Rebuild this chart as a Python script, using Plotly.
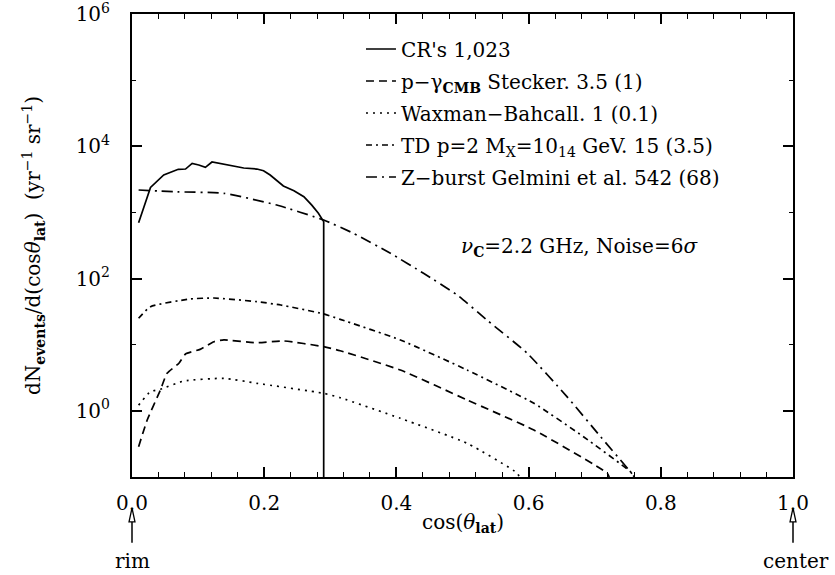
import plotly.graph_objects as go

# ---------------- data ----------------
cr_x = [0.010, 0.028, 0.048, 0.070, 0.081, 0.091, 0.101, 0.111, 0.121, 0.131, 0.149,
        0.169, 0.189, 0.199, 0.209, 0.229, 0.245, 0.260, 0.272, 0.282, 0.290, 0.290]
cr_y = [700, 2390, 3680, 4490, 4530, 5520, 5210, 4810, 5780, 5520, 5210,
        4700, 4530, 4280, 3680, 2510, 2130, 1730, 1290, 970, 725, 0.1]

stecker_x = [0.010, 0.023, 0.043, 0.053, 0.071, 0.081, 0.103, 0.124, 0.139, 0.189, 0.229,
             0.290, 0.315, 0.406, 0.507, 0.608, 0.719, 0.722]
stecker_y = [0.287, 0.726, 2.07, 3.69, 5.24, 7.23, 8.51, 11.1, 11.8, 10.7, 11.4,
             9.33, 8.11, 4.14, 1.46, 0.513, 0.114, 0.1]

wb_x = [0.010, 0.028, 0.043, 0.078, 0.139, 0.189, 0.290, 0.315, 0.406, 0.507, 0.583, 0.586]
wb_y = [1.22, 1.95, 2.12, 2.82, 3.10, 2.61, 1.84, 1.58, 0.771, 0.323, 0.114, 0.1]

td_x = [0.010, 0.028, 0.088, 0.124, 0.189, 0.225, 0.290, 0.315, 0.406, 0.507, 0.608, 0.683, 0.754, 0.760]
td_y = [25.1, 37.6, 49.1, 50.8, 44.7, 39.8, 29.2, 24.2, 11.8, 4.14, 1.30, 0.406, 0.120, 0.1]

zb_x = [0.010, 0.063, 0.139, 0.219, 0.290, 0.335, 0.391, 0.441, 0.492, 0.537, 0.598,
        0.658, 0.709, 0.754, 0.762]
zb_y = [2183, 2056, 1945, 1294, 767, 483, 241, 120, 56.4, 23.6, 7.41,
        1.64, 0.406, 0.120, 0.095]

names = ["CR's 1,023",
         "p\u2212\u03b3<sub><b>CMB</b></sub> Stecker. 3.5 (1)",
         "Waxman\u2212Bahcall. 1 (0.1)",
         "TD p=2 M<sub>X</sub>=10<sub>14</sub> GeV. 15 (3.5)",
         "Z\u2212burst Gelmini et al. 542 (68)"]

x_ticks = [0.0, 0.2, 0.4, 0.6, 0.8, 1.0]
x_ticktext = ["0.0", "0.2", "0.4", "0.6", "0.8", "1.0"]
y_ticks = [1, 1e2, 1e4, 1e6]
y_ticktext = ["10<sup>0</sup>", "10<sup>2</sup>", "10<sup>4</sup>", "10<sup>6</sup>"]
y_minor = [0.1, 10, 1e3, 1e5]

x_title = "cos(<i>\u03b8</i><sub><b>lat</b></sub>)"
y_title = ("dN<sub><b>events</b></sub>/d(cos<i>\u03b8</i><sub><b>lat</b></sub>)  "
           "(yr<sup>\u22121</sup> sr<sup>\u22121</sup>)")
note = "<i>\u03bd</i><sub><b>C</b></sub>=2.2 GHz, Noise=6<i>\u03c3</i>"

FONT = "DejaVu Serif, Liberation Serif, serif"

fig = go.Figure()
series = [
    (cr_x, cr_y, names[0], "solid", "linear"),
    (stecker_x, stecker_y, names[1], "8px,5px", "spline"),
    (wb_x, wb_y, names[2], "2px,5px", "spline"),
    (td_x, td_y, names[3], "6px,4px,2px,4px", "spline"),
    (zb_x, zb_y, names[4], "11px,5px,2px,5px", "spline"),
]
for i, (xs, ys, nm, dash, shape) in enumerate(series):
    fig.add_trace(go.Scatter(
        x=xs, y=ys, name=nm, mode="lines", legendgroup=f"g{i}",
        line=dict(color="black", width=1.7, dash=dash, shape=shape,
                  smoothing=0.5 if shape == "spline" else None),
    ))

fig.update_layout(
    width=835, height=575,
    margin=dict(l=132, r=42, t=14, b=98, autoexpand=False),
    plot_bgcolor="white", paper_bgcolor="white",
    font=dict(family=FONT, color="black", size=20),
    showlegend=True,
    legend=dict(x=0.3464, y=0.9665, xanchor="left", yanchor="top",
                bgcolor="rgba(0,0,0,0)", font=dict(size=20, family=FONT),
                tracegroupgap=3),
    xaxis=dict(range=[0, 1], showline=True, linecolor="black", linewidth=2,
               mirror="ticks", ticks="inside", ticklen=10, tickwidth=1.5,
               tickcolor="black", tickvals=x_ticks, ticktext=x_ticktext,
               minor=dict(tick0=0, dtick=0.04, ticks="inside", ticklen=5,
                          tickwidth=1.2, tickcolor="black"),
               showgrid=False, zeroline=False, tickfont=dict(size=20),
               automargin=False, ticklabeloverflow="allow", ticklabelstandoff=7),
    yaxis=dict(type="log", range=[-1.0001, 6.0001], showline=True, linecolor="black",
               linewidth=2, mirror="ticks", ticks="inside", ticklen=10,
               tickwidth=1.5, tickcolor="black", tickvals=y_ticks,
               ticktext=y_ticktext, ticklabelstandoff=16,
               ticklabeloverflow="allow",
               minor=dict(tickmode="array", tickvals=y_minor, ticks="inside",
                          ticklen=4, tickwidth=1.2, tickcolor="black"),
               showgrid=False, zeroline=False, tickfont=dict(size=20),
               automargin=False),
)

# axis titles (as text annotations for exact placement)
fig.add_annotation(x=0.5, y=-0.099, xref="paper", yref="paper", showarrow=False,
                   text=x_title, font=dict(size=20, family=FONT),
                   xanchor="center", yanchor="middle")
fig.add_annotation(x=-0.149, y=0.5, xref="paper", yref="paper", showarrow=False,
                   text=y_title, textangle=-90, font=dict(size=20, family=FONT),
                   xanchor="center", yanchor="middle")

fig.add_annotation(x=0.677, y=0.497, xref="paper", yref="paper", showarrow=False,
                   text=note, font=dict(size=20, family=FONT),
                   xanchor="center", yanchor="middle")

# rim / center markers below the axis
fig.add_annotation(x=0.0, y=-0.182, xref="paper", yref="paper", showarrow=False,
                   text="rim", font=dict(size=20, family=FONT),
                   xanchor="center", yanchor="middle")
fig.add_annotation(x=1.004, y=-0.182, xref="paper", yref="paper", showarrow=False,
                   text="center", font=dict(size=20, family=FONT),
                   xanchor="center", yanchor="middle")
for xp in (0.0, 1.0):
    fig.add_shape(type="line", xref="paper", yref="paper", x0=xp, x1=xp,
                  y0=-0.142, y1=-0.095, line=dict(color="black", width=1.5))
    fig.add_shape(type="path", xref="paper", yref="paper",
                  path=f"M {xp-0.0045} -0.097 L {xp} -0.067 L {xp+0.0045} -0.097 Z",
                  fillcolor="white", line=dict(color="black", width=1.3))

fig.write_html("out.html",
               config={"displayModeBar": False},
               post_script="document.body.style.margin='0px';"
                           "document.body.style.overflow='hidden';")
